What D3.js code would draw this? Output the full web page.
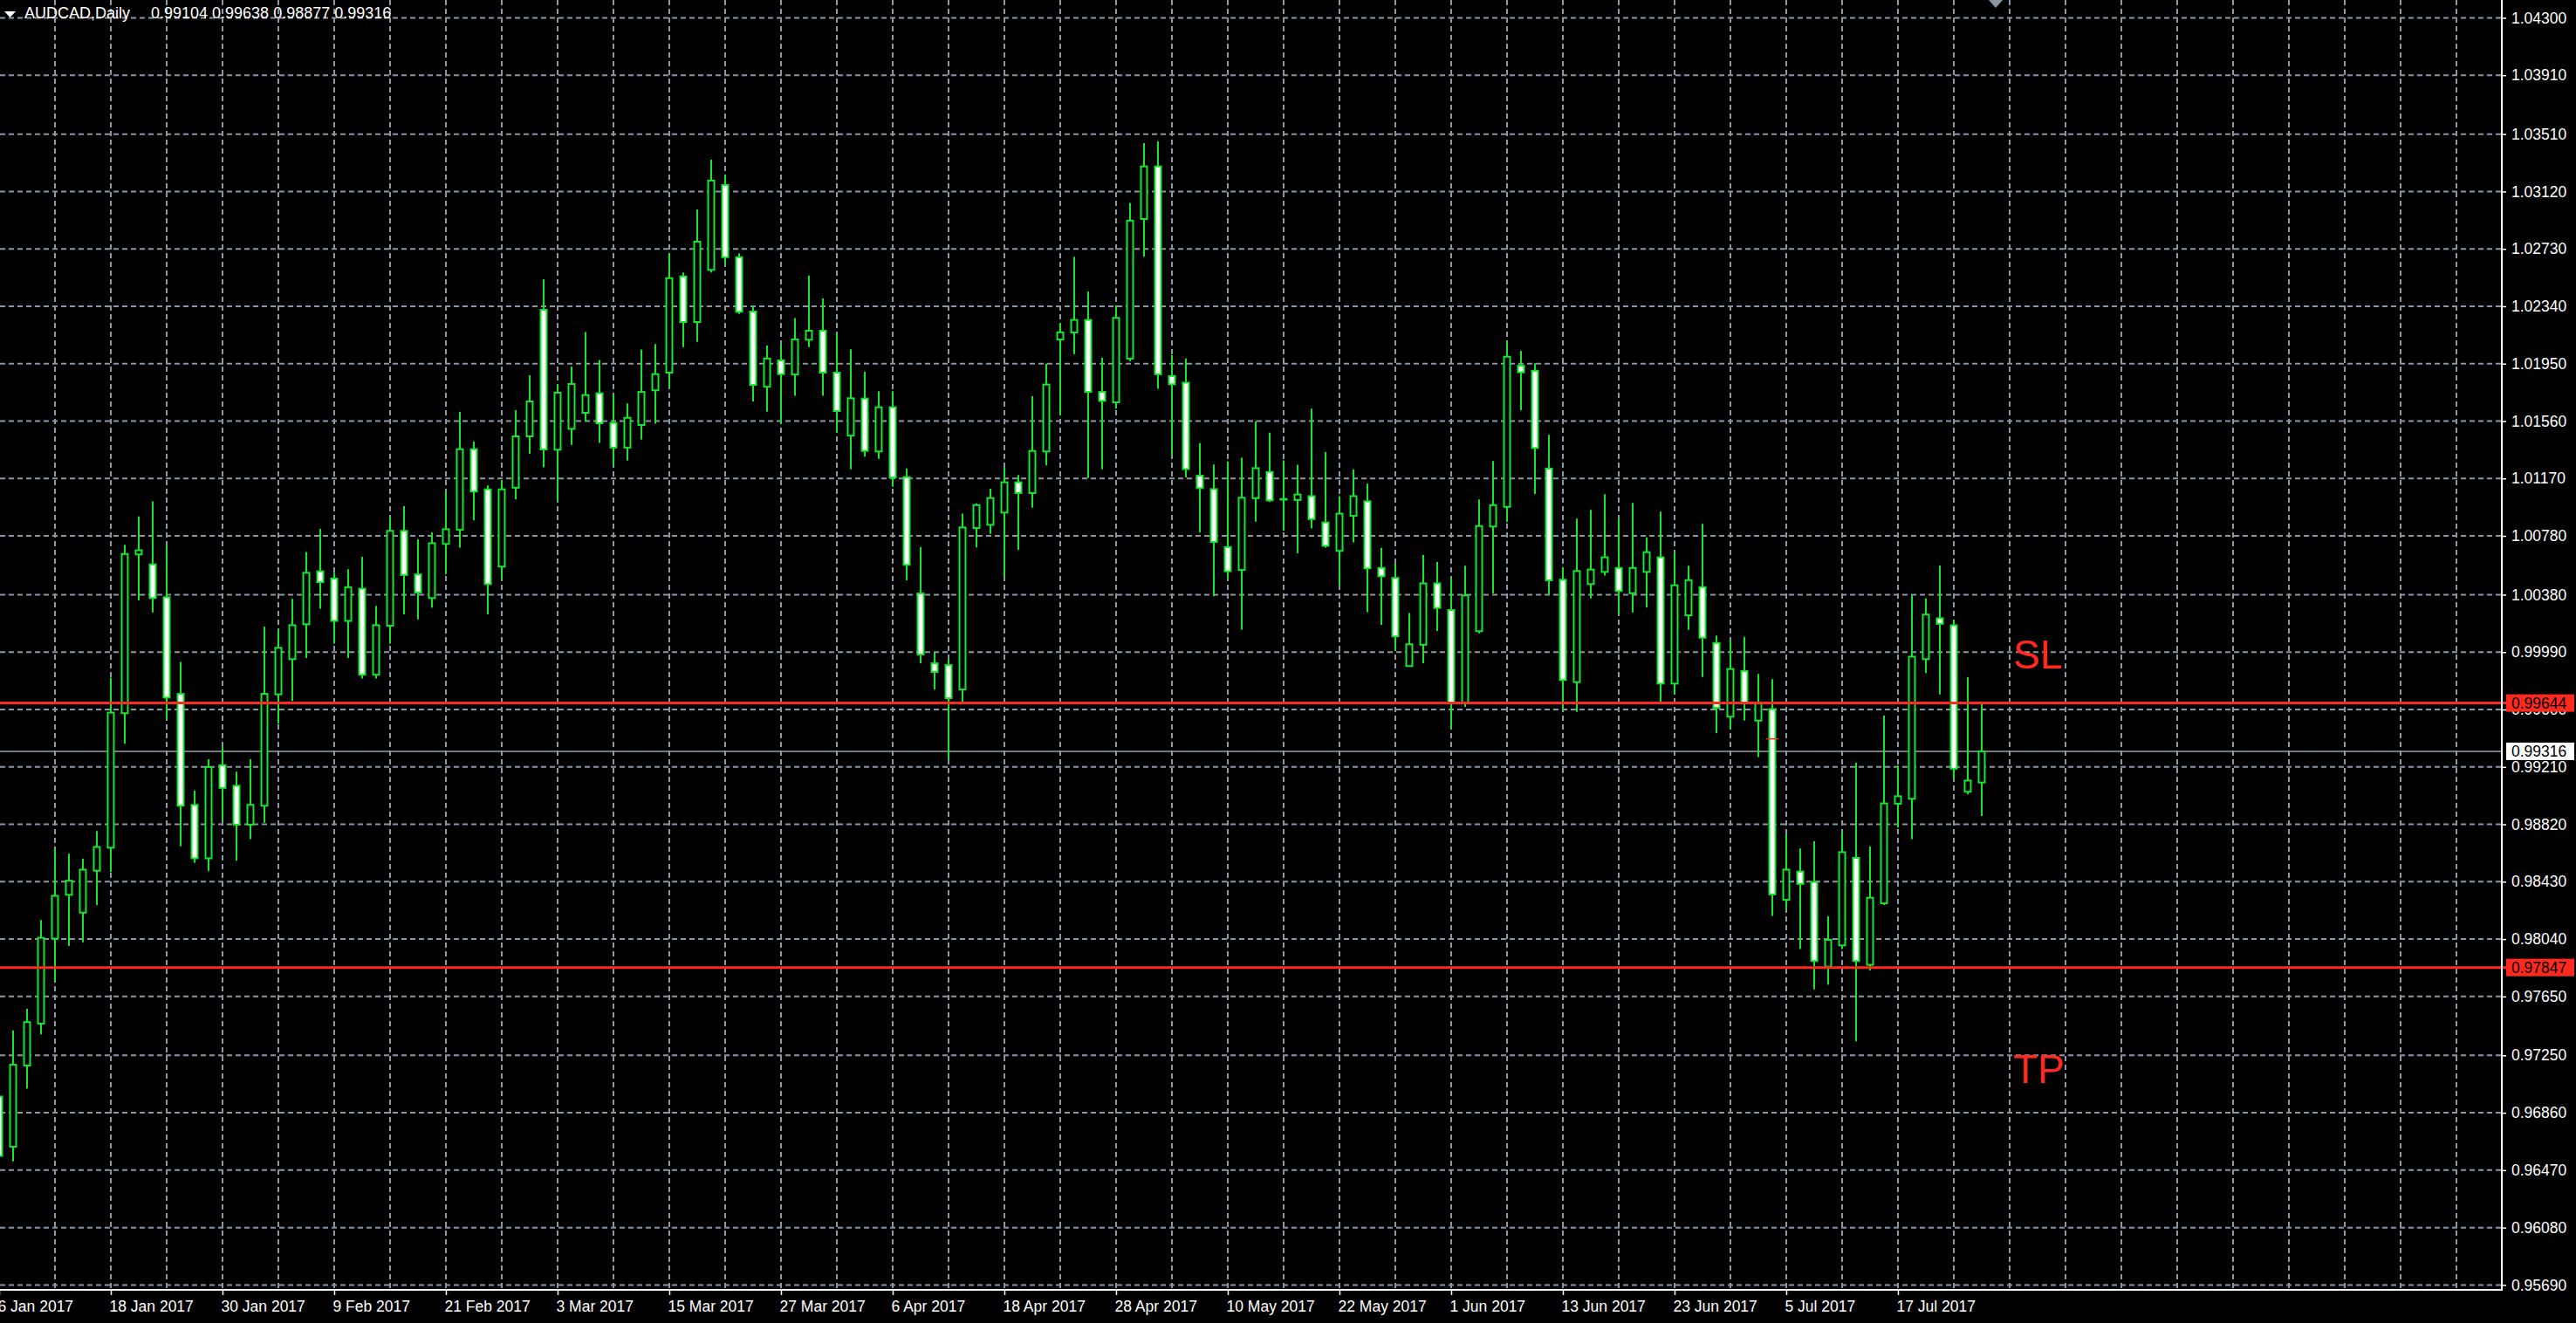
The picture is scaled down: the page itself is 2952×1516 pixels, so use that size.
<!DOCTYPE html>
<html><head><meta charset="utf-8">
<script src="https://cdn.jsdelivr.net/npm/d3@7"></script>
<style>html,body{margin:0;padding:0;background:#000;overflow:hidden}</style>
</head><body>
<svg id="c" width="2952" height="1516"></svg>
<script>
// ---------------- DATA ----------------
const symbolTitle = "AUDCAD,Daily";
const lastBarText = ["0.99104", "0.99638", "0.98877", "0.99316"];
const firstDate = "2017-01-06"; // daily bars, weekdays only

const openP = [0.96970,0.96629,0.97181,0.97466,0.98043,0.98341,0.98220,0.98505,0.98661,0.99575,
1.00654,1.00586,1.00363,0.99706,0.98952,0.98589,0.99222,0.99082,0.98818,0.98946,
0.99703,0.99942,1.00179,1.00539,1.00490,1.00202,1.00421,0.99836,1.00169,1.00814,
1.00518,1.00357,1.00725,1.00821,1.01369,1.01096,1.00571,1.01107,1.01456,1.02316,
1.01365,1.01507,1.01616,1.01749,1.01547,1.01380,1.01533,1.01769,1.01889,1.02543,
1.02233,1.02587,1.03164,1.02673,1.02304,1.01793,1.01972,1.01876,1.02112,1.02174,
1.01889,1.01461,1.01713,1.01353,1.01654,1.01179,1.00389,0.99914,0.99902,0.99736,
1.00833,1.00855,1.00938,1.01144,1.01071,1.01353,1.02114,1.02162,1.02247,1.01758,
1.01687,1.01984,1.02933,1.03290,1.01866,1.01821,1.01189,1.01098,1.00704,1.00548,
1.01036,1.01214,1.01026,1.01024,1.01050,1.00871,1.00678,1.00916,1.01015,1.00562,
1.00494,0.99895,1.00040,1.00457,1.00276,0.99647,1.00132,1.00843,1.00977,1.01936,
1.01902,1.01237,1.00482,0.99786,1.00452,1.00535,1.00562,1.00390,1.00535,1.00634,
0.99776,1.00240,1.00432,1.00052,0.99551,0.99862,0.99525,0.99603,0.98307,0.98499,
0.98428,0.97853,0.97997,0.98592,0.97865,0.98283,0.98960,0.98993,0.99942,1.00220,
1.00172,0.99041,0.99104];
const highP = [0.97068,0.97420,0.97566,0.98170,0.98648,0.98620,0.98586,0.98775,0.99817,1.00720,
1.00912,1.01014,1.00717,0.99923,0.99048,0.99262,0.99349,0.99178,0.99262,1.00164,
1.00142,1.00351,1.00670,1.00827,1.00529,1.00554,1.00638,1.00304,1.00908,1.00982,
1.00757,1.00804,1.01081,1.01622,1.01420,1.01123,1.01157,1.01634,1.01871,1.02523,
1.01812,1.01930,1.02164,1.01975,1.01739,1.01680,1.02046,1.02083,1.02700,1.02570,
1.02998,1.03336,1.03235,1.02700,1.02344,1.02073,1.02078,1.02260,1.02548,1.02393,
1.02157,1.02048,1.01895,1.01763,1.01763,1.01238,1.00705,0.99985,0.99944,1.00932,
1.01001,1.01100,1.01243,1.01193,1.01729,1.01950,1.02227,1.02676,1.02440,1.01990,
1.02346,1.03043,1.03448,1.03460,1.02008,1.01986,1.01410,1.01265,1.01285,1.01311,
1.01560,1.01481,1.01293,1.01263,1.01645,1.01350,1.01050,1.01231,1.01135,1.00698,
1.00590,1.00255,1.00650,1.00602,1.00488,1.00577,1.01027,1.01288,1.02107,1.02037,
1.01952,1.01466,1.00567,1.00897,1.00956,1.01063,1.00897,1.01004,1.00770,1.00944,
1.00669,1.00577,1.00861,1.00102,1.00070,1.00093,0.99842,0.99806,0.98752,0.98656,
0.98704,0.98194,0.98765,0.99239,0.98669,0.99558,0.99219,1.00377,1.00354,1.00579,
1.00210,0.99819,0.99638];
const lowP = [0.96504,0.96530,0.97023,0.97392,0.97755,0.97993,0.98018,0.98270,0.98496,0.99367,
1.00341,1.00260,0.99535,0.98670,0.98558,0.98502,0.98846,0.98573,0.98719,0.98831,
0.99504,0.99658,0.99950,1.00285,1.00048,0.99950,0.99810,0.99810,1.00048,1.00247,
1.00213,1.00293,1.00520,1.00700,1.00886,1.00247,1.00484,1.01028,1.01337,1.01246,
1.01018,1.01399,1.01557,1.01412,1.01257,1.01292,1.01434,1.01542,1.01783,1.02063,
1.02098,1.02570,1.02624,1.02287,1.01694,1.01623,1.01542,1.01732,1.02063,1.01732,
1.01483,1.01232,1.01318,1.01304,1.01114,1.00478,0.99914,0.99736,0.99262,0.99647,
1.00701,1.00794,1.00507,1.00685,1.00972,1.01259,1.01600,1.02015,1.01173,1.01232,
1.01644,1.01966,1.02678,1.01779,1.01328,1.01177,1.00803,1.00369,1.00488,1.00142,
1.00877,1.01010,1.00814,1.00661,1.00831,1.00700,1.00440,1.00735,1.00261,1.00176,
1.00000,0.99890,0.99915,1.00134,0.99469,0.99618,1.00118,1.00389,1.00873,1.01634,
1.01065,1.00381,0.99598,0.99584,1.00355,1.00511,1.00246,1.00260,1.00294,0.99653,
0.99703,1.00141,0.99821,0.99440,0.99467,0.99525,0.99277,0.98197,0.98245,0.97972,
0.97698,0.97731,0.97972,0.97346,0.97827,0.98272,0.98798,0.98719,0.99847,0.99703,
0.99125,0.99024,0.98877];
const closeP = [0.96567,0.97187,0.97476,0.98049,0.98334,0.98437,0.98512,0.98666,0.99579,1.00657,
1.00682,1.00357,0.99681,0.98946,0.98589,0.99209,0.99067,0.98818,0.98952,0.99706,
1.00019,1.00173,1.00529,1.00465,1.00202,1.00431,0.99836,1.00173,1.00814,1.00514,
1.00395,1.00730,1.00825,1.01369,1.01081,1.00452,1.01096,1.01456,1.01693,1.01367,
1.01753,1.01812,1.01737,1.01545,1.01380,1.01582,1.01758,1.01879,1.02531,1.02233,
1.02779,1.03194,1.02673,1.02302,1.01805,1.01985,1.01879,1.02115,1.02174,1.01889,
1.01628,1.01715,1.01357,1.01654,1.01176,1.00583,0.99974,0.99855,0.99677,1.00837,
1.00989,1.01037,1.01144,1.01071,1.01357,1.01808,1.02163,1.02247,1.01758,1.01697,
1.02261,1.02922,1.03290,1.01878,1.01810,1.01234,1.01104,1.00738,1.00539,1.01039,
1.01240,1.01021,1.01030,1.01061,1.00894,1.00712,1.00931,1.01050,1.00559,1.00505,
1.00097,1.00043,1.00457,1.00290,0.99641,1.00375,1.00847,1.00989,1.01997,1.01891,
1.01377,1.00478,0.99800,1.00541,1.00551,1.00634,1.00405,1.00562,1.00669,0.99776,
1.00444,1.00479,1.00088,0.99612,0.99875,0.99647,0.99644,0.98344,0.98512,0.98415,
0.97891,0.98035,0.98631,0.97891,0.98321,0.98962,0.99011,0.99959,1.00245,1.00182,
0.99198,0.99117,0.99316];

const priceTicks = [1.04300,1.03910,1.03510,1.03120,1.02730,1.02340,1.01950,1.01560,1.01170,
1.00780,1.00380,0.99990,0.99600,0.99210,0.98820,0.98430,0.98040,0.97650,0.97250,0.96860,
0.96470,0.96080,0.95690];
const dateTickStep = 8;
const gridStep = 4;
const stopLoss = 0.99644;
const takeProfit = 0.97847;
const bidPrice = 0.99316;
const orderMark = {bar: 127, price: 0.99401};
const levelTexts = [{text: "SL", price: 0.99879}, {text: "TP", price: 0.97062}];

// ---------------- LAYOUT ----------------
const W = 2952, H = 1516, plotRight = 2866, plotBottom = 1478;
const FONT = "'Liberation Sans', Arial, sans-serif";
const GREEN = "#17e62c", GRID = "#8a96a3", RED = "#ff2a1f";

const n = openP.length;
const parse = d3.timeParse("%Y-%m-%d");
const dates = [];
for (let d = parse(firstDate); dates.length < n; d = d3.timeDay.offset(d, 1)) {
  if (d.getDay() !== 0 && d.getDay() !== 6) dates.push(d);
}
const fmtDate = d3.timeFormat("%-d %b %Y");

const x = d3.scaleLinear().domain([0, n - 1]).range([-1, -1 + 16 * (n - 1)]);
const y = d3.scaleLinear().domain([0.95690, 1.04300]).range([1472.4, 20.4]);

const svg = d3.select("#c");
svg.append("rect").attr("width", W).attr("height", H).attr("fill", "#000");

// grid
const gridIdx = d3.range(0, 400, gridStep).filter(i => x(i) < plotRight);
const grid = svg.append("g").attr("stroke", GRID).attr("stroke-width", 2).attr("stroke-dasharray", "6,4");
grid.selectAll(null).data(gridIdx).join("line")
  .attr("x1", d => x(d)).attr("x2", d => x(d)).attr("y1", 0).attr("y2", plotBottom);
grid.selectAll(null).data(priceTicks).join("line")
  .attr("x1", 0).attr("x2", plotRight).attr("y1", d => y(d)).attr("y2", d => y(d));

// bid line
svg.append("line").attr("x1", 0).attr("x2", plotRight)
  .attr("y1", y(bidPrice)).attr("y2", y(bidPrice))
  .attr("stroke", "#98a2ac").attr("stroke-width", 1.5);

// candles
const bars = d3.range(n).map(i => ({i, o: openP[i], h: highP[i], l: lowP[i], c: closeP[i]}));
const cg = svg.append("g");
cg.selectAll("line").data(bars).join("line")
  .attr("x1", d => x(d.i)).attr("x2", d => x(d.i))
  .attr("y1", d => y(d.h)).attr("y2", d => y(d.l))
  .attr("stroke", GREEN).attr("stroke-width", 2);
cg.selectAll("rect").data(bars).join("rect")
  .attr("x", d => x(d.i) - 3.5).attr("width", 7)
  .attr("y", d => y(Math.max(d.o, d.c)))
  .attr("height", d => Math.max(0, y(Math.min(d.o, d.c)) - y(Math.max(d.o, d.c))))
  .attr("fill", d => d.c >= d.o ? "#000" : "#fff")
  .attr("stroke", GREEN).attr("stroke-width", 2);

// order marker
svg.append("line").attr("x1", x(orderMark.bar) - 7).attr("x2", x(orderMark.bar) + 7)
  .attr("y1", y(orderMark.price)).attr("y2", y(orderMark.price))
  .attr("stroke", RED).attr("stroke-width", 1.5);

// SL / TP lines
[stopLoss, takeProfit].forEach(p => {
  svg.append("line").attr("x1", 0).attr("x2", plotRight + 6)
    .attr("y1", y(p)).attr("y2", y(p)).attr("stroke", RED).attr("stroke-width", 3);
});

// axes frame
svg.append("line").attr("x1", 0).attr("x2", plotRight + 1).attr("y1", plotBottom).attr("y2", plotBottom)
  .attr("stroke", "#fff").attr("stroke-width", 2);
svg.append("line").attr("x1", plotRight + 1).attr("x2", plotRight + 1).attr("y1", 0).attr("y2", plotBottom + 1)
  .attr("stroke", "#fff").attr("stroke-width", 2);

// price axis
const yAxis = d3.axisRight(y).tickValues(priceTicks).tickFormat(d3.format(".5f"))
  .tickSize(5).tickPadding(6);
const ya = svg.append("g").attr("transform", `translate(${plotRight + 1},0)`).call(yAxis);
ya.select(".domain").remove();
ya.selectAll(".tick line").attr("stroke", "#fff").attr("stroke-width", 1.5);
ya.selectAll(".tick text").attr("fill", "#fff").attr("font-family", FONT).attr("font-size", 17.5);

// date axis
const xAxis = d3.axisBottom(x).tickValues(d3.range(0, n, dateTickStep))
  .tickFormat(i => fmtDate(dates[i])).tickSize(6).tickPadding(6.5);
const xa = svg.append("g").attr("transform", `translate(0,${plotBottom})`).call(xAxis);
xa.select(".domain").remove();
xa.selectAll(".tick line").attr("stroke", "#fff").attr("stroke-width", 1.5);
xa.selectAll(".tick text").attr("fill", "#fff").attr("font-family", FONT).attr("font-size", 17.5)
  .attr("text-anchor", "start").attr("x", -2);

// price labels (boxes)
function priceBox(p, bg) {
  const g = svg.append("g");
  g.append("rect").attr("x", plotRight + 6).attr("y", y(p) - 10).attr("width", 78).attr("height", 20).attr("fill", bg);
  g.append("text").attr("x", plotRight + 12).attr("y", y(p)).attr("dy", "0.35em")
    .attr("fill", "#000").attr("font-family", FONT).attr("font-size", 17.5).text(d3.format(".5f")(p));
}
priceBox(stopLoss, RED);
priceBox(bidPrice, "#fff");
priceBox(takeProfit, RED);

// SL / TP texts
svg.selectAll(null).data(levelTexts).join("text")
  .attr("x", x(n - 1) + 36).attr("y", d => y(d.price))
  .attr("fill", RED).attr("font-family", FONT).attr("font-size", 46)
  .text(d => d.text);

// title
svg.append("path").attr("d", "M5,13 L18,13 L11.5,20 Z").attr("fill", "#fff");
svg.append("text").attr("x", 28).attr("y", 21).attr("fill", "#fff").attr("font-family", FONT)
  .attr("font-size", 18).text(symbolTitle);
svg.append("text").attr("x", 173).attr("y", 21).attr("fill", "#fff").attr("font-family", FONT)
  .attr("font-size", 18).attr("xml:space", "preserve").style("white-space", "pre")
  .text(lastBarText.join(" "));

// chart shift marker
const sx = x(n - 1) + 16;
svg.append("path").attr("d", `M${sx - 8},0 L${sx + 8},0 L${sx},9 Z`).attr("fill", "#8a96a3");
</script>
</body></html>
